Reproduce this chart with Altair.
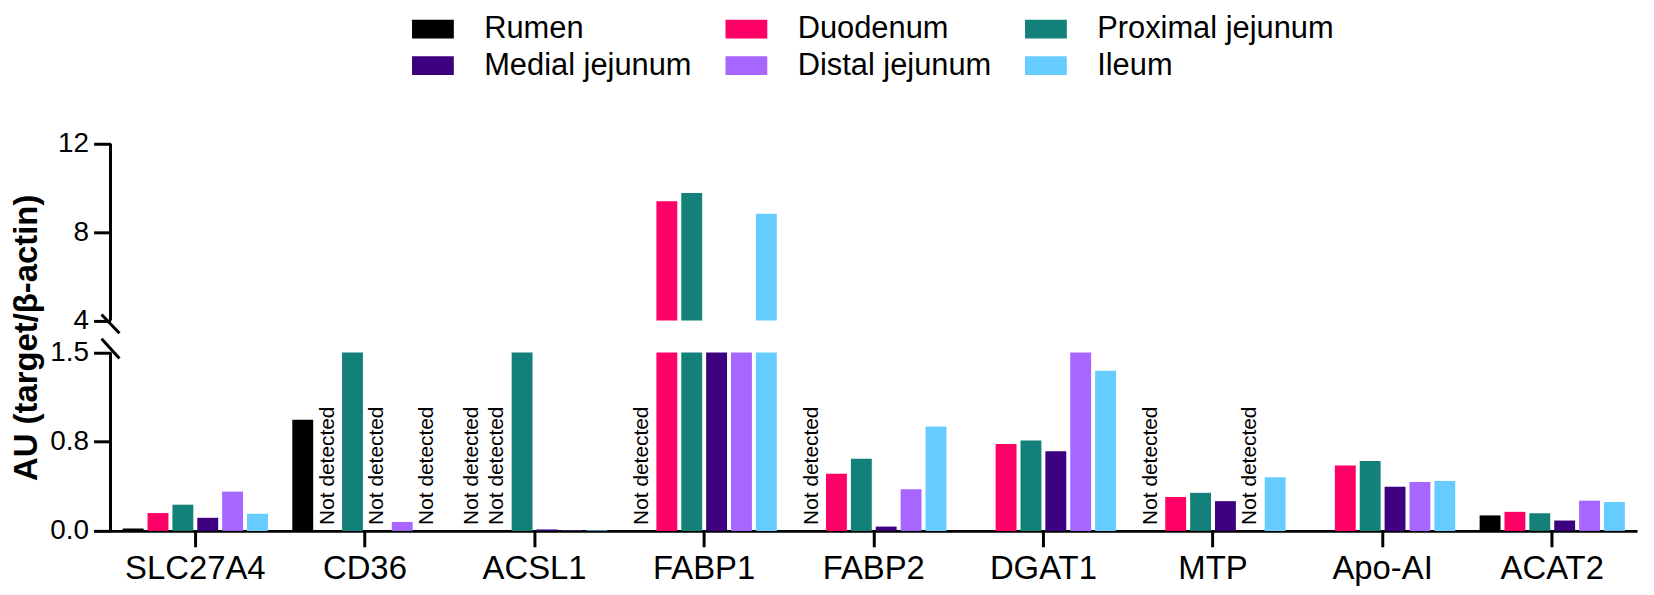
import altair as alt
import pandas as pd

genes = ["SLC27A4", "CD36", "ACSL1", "FABP1", "FABP2", "DGAT1", "MTP", "Apo-AI", "ACAT2"]
tissues = ["Rumen", "Duodenum", "Proximal jejunum", "Medial jejunum", "Distal jejunum", "Ileum"]
colors = ["#000000", "#FF0066", "#138079", "#3D007F", "#A666FF", "#66CCFF"]
# legend reads row by row: Rumen, Duodenum, Proximal jejunum / Medial, Distal, Ileum
legend_order = ["Rumen", "Medial jejunum", "Duodenum", "Distal jejunum", "Proximal jejunum", "Ileum"]

ND = None  # not detected
rumen = [0.02, 0.935, ND, ND, ND, 0.0, ND, 0.0, 0.13]
duodenum = [0.15, ND, ND, 9.4, 0.48, 0.73, 0.285, 0.55, 0.16]
proximal = [0.22, 2.0, 2.0, 9.77, 0.606, 0.76, 0.32, 0.587, 0.148]
medial = [0.11, ND, 0.012, 2.0, 0.036, 0.67, 0.25, 0.37, 0.087]
distal = [0.33, 0.075, 0.003, 2.0, 0.35, 2.0, ND, 0.41, 0.254]
ileum = [0.145, ND, 0.006, 8.83, 0.877, 1.346, 0.45, 0.42, 0.243]

# broken axis: lower segment 0-1.5, upper segment 4-12
lower_max = 1.5
upper_min = 4.0
tick_values = [0, 0.75, 1.5, 4, 8, 12]
tick_labels = ["0.0", "0.8", "1.5", "4", "8", "12"]
axis_segments = [(0.0, 1.5), (4.0, 12.0)]
break_marks = [(4.27, 3.0), (2.58, 1.45)]

series = [rumen, duodenum, proximal, medial, distal, ileum]
rows = []
for t, vals in zip(tissues, series):
    for g, v in zip(genes, vals):
        rows.append({
            "gene": g, "tissue": t,
            "value": v if v is not None else float("nan"),
            "nd": v is None,
            "zero": 0.0,
            "lo": min(v, lower_max) if v is not None else 0.0,
            "base_hi": upper_min,
        })
df = pd.DataFrame(rows)
seg_df = pd.DataFrame(axis_segments, columns=["a", "b"])
brk_df = pd.DataFrame(break_marks, columns=["a", "b"])

label_expr = " : ".join(
    [f"datum.value == {v} ? '{l}'" for v, l in zip(tick_values, tick_labels)]
) + " : ''"

yscale = alt.Scale(type="linear", domain=[0, 1.5, 4, 12], range=[389, 209.7, 177.6, 0],
                   zero=False, nice=False)
yaxis = alt.Axis(values=tick_values, labelExpr=label_expr, domain=False, grid=False,
                 tickSize=17, tickWidth=3, tickColor="black", labelFontSize=28,
                 labelPadding=5, labelColor="black", labelOverlap=False,
                 titleFontSize=33, titleFontWeight="bold", titlePadding=6, titleLimit=1000,
                 titleColor="black", labelFont="Liberation Sans", titleFont="Liberation Sans")
ytitle = "AU (target/β-actin)"

def Y(field):
    return alt.Y(field, scale=yscale, axis=yaxis, title=ytitle)

xaxis = alt.Axis(labelAngle=0, labelFontSize=33, labelPadding=6, tickSize=16, tickWidth=3,
                 tickColor="black", domainWidth=3, domainColor="black", labelColor="black",
                 labelFont="Liberation Sans", grid=False)
X = alt.X("gene:N", sort=genes, scale=alt.Scale(paddingInner=0, paddingOuter=0),
          axis=xaxis, title=None)
XO = alt.XOffset("tissue:N", sort=tissues, scale=alt.Scale(paddingInner=0.16, paddingOuter=0.49))

legend = alt.Legend(title=None, orient="none", legendX=308.5, legendY=-131, columns=3,
                    symbolType="M-2,-0.9L2,-0.9L2,0.9L-2,0.9Z", symbolSize=441,
                    symbolStrokeWidth=0, symbolOpacity=1, labelFont="Liberation Sans",
                    labelFontSize=31, labelOffset=36, columnPadding=33, rowPadding=5,
                    padding=0, labelColor="black", labelLimit=400)
legend_colors = [colors[tissues.index(t)] for t in legend_order]
C = alt.Color("tissue:N", sort=legend_order,
              scale=alt.Scale(domain=legend_order, range=legend_colors), legend=legend)

base = alt.Chart(df)

lower_bars = base.transform_filter("!datum.nd").mark_bar(strokeWidth=0).encode(
    x=X, xOffset=XO, y=Y("zero:Q"), y2="lo:Q", color=C)

upper_bars = base.transform_filter("!datum.nd && datum.value > 4").mark_bar(strokeWidth=0).encode(
    x=X, xOffset=XO, y=Y("base_hi:Q"), y2="value:Q", color=C)

nd_text = base.transform_filter("datum.nd").transform_calculate(
    label="'Not detected'").mark_text(
    angle=270, align="left", baseline="middle", dx=6, fontSize=21,
    font="Liberation Sans", color="black").encode(
    x=X, xOffset=XO, y=Y("zero:Q"), text="label:N")

axis_line = alt.Chart(seg_df).mark_rule(strokeWidth=3, color="black").encode(
    x=alt.value(0), y=Y("a:Q"), y2="b:Q")

breaks = alt.Chart(brk_df).mark_rule(strokeWidth=3, color="black").encode(
    x=alt.value(-9), x2=alt.value(9), y=Y("a:Q"), y2="b:Q")

chart = alt.layer(lower_bars, upper_bars, nd_text, axis_line, breaks).properties(
    width=1534, height=389,
    autosize=alt.AutoSizeParams(type="none"),
    padding={"left": 103, "top": 135, "right": 9, "bottom": 62},
).configure(font="Liberation Sans").configure_view(stroke=None)

chart.save("out.html", embed_options={"renderer": "svg", "actions": False})
